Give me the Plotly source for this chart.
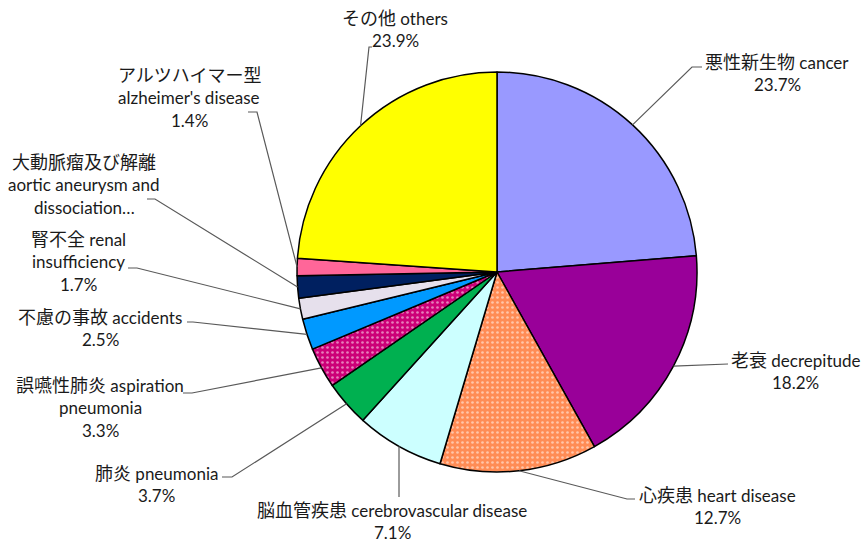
import math
import plotly.graph_objects as go

# ---------------- data ----------------
names_ja = ["悪性新生物", "老衰", "心疾患", "脳血管疾患", "肺炎", "誤嚥性肺炎",
            "不慮の事故", "腎不全", "大動脈瘤及び解離", "アルツハイマー型", "その他"]
names_en = ["cancer", "decrepitude", "heart disease", "cerebrovascular disease",
            "pneumonia", "aspiration pneumonia", "accidents", "renal insufficiency",
            "aortic aneurysm and dissociation", "alzheimer's disease", "others"]
values = [23.7, 18.2, 12.7, 7.1, 3.7, 3.3, 2.5, 1.7, 1.8, 1.4, 23.9]

# ---------------- style / layout ----------------
W, H = 862, 542
CX, CY, R = 497, 272, 200
colors = ["#9999FF", "#990099", "#FF8C55", "#CCFFFF", "#00B050", "#CC0077",
          "#0099FF", "#E6E0EC", "#002060", "#FF6699", "#FFFF00"]
pattern_shapes = ["", "", ".", "", "", ".", "", "", "", "", ""]

CJK = "font-size:18px"
def J(s):
    return f'<span style="{CJK}">{s}</span>'

pct = [f"{v:.1f}%" for v in values]
label_lines = [
    [J(names_ja[0]) + " " + names_en[0], pct[0]],
    [J(names_ja[1]) + " " + names_en[1], pct[1]],
    [J(names_ja[2]) + " " + names_en[2], pct[2]],
    [J(names_ja[3]) + " " + names_en[3], pct[3]],
    [J(names_ja[4]) + " " + names_en[4], pct[4]],
    [J(names_ja[5]) + " aspiration", "pneumonia", pct[5]],
    [J(names_ja[6]) + " " + names_en[6], pct[6]],
    [J(names_ja[7]) + " renal", "insufficiency", pct[7]],
    [J(names_ja[8]), "aortic aneurysm and", "dissociation…"],
    [J(names_ja[9]), names_en[9], pct[9]],
    [J(names_ja[10]) + " " + names_en[10], pct[10]],
]
label_pos = [(777, 62), (795, 360), (717, 495), (392, 510), (156, 473),
             (100, 385), (100, 317), (78, 239), (84, 162), (189, 75), (395, 18)]
LINE_H = 22.5
leader_pts = [
    [(692, 67), (702, 67)],
    [(728, 364)],
    [(627, 499), (635, 499)],
    [(399, 497)],
    [(232, 477), (222, 477)],
    [(192, 393), (183, 393)],
    [(193, 322), (187, 322)],
    [(137, 268), (128, 268)],
    [(155, 199), (147, 199)],
    [(257, 112), (248, 112)],
    [(369, 47), (372, 47)],
]

def px(x):
    return x / W
def py(y):
    return 1 - y / H

fig = go.Figure(go.Pie(
    labels=[f"{a} {b}" for a, b in zip(names_ja, names_en)],
    values=values,
    sort=False,
    direction="clockwise",
    rotation=0,
    textinfo="none",
    hoverinfo="label+percent",
    marker=dict(
        colors=colors,
        line=dict(color="black", width=1.5),
        pattern=dict(shape=pattern_shapes, fgcolor="white",
                     size=5, solidity=0.22, fillmode="overlay"),
    ),
    domain=dict(x=[px(CX - R), px(CX + R)], y=[py(CY + R), py(CY - R)]),
    showlegend=False,
))

total = sum(values)
shapes = []
annotations = []
cum = 0.0
for i, v in enumerate(values):
    mid = (cum + v / 2) / total * 2 * math.pi
    cum += v
    ax = CX + R * math.sin(mid)
    ay = CY - R * math.cos(mid)
    pts = [(ax, ay)] + leader_pts[i]
    path = "M " + " L ".join(f"{px(x):.5f},{py(y):.5f}" for x, y in pts)
    shapes.append(dict(type="path", path=path, xref="paper", yref="paper",
                       line=dict(color="#595959", width=1.2)))
    lx, ly = label_pos[i]
    for k, t in enumerate(label_lines[i]):
        annotations.append(dict(
            text=t, x=px(lx), y=py(ly + k * LINE_H), xref="paper", yref="paper",
            xanchor="center", yanchor="middle", showarrow=False,
            font=dict(size=17, color="#1a1a1a"),
        ))

fig.update_layout(
    width=W, height=H,
    margin=dict(l=0, r=0, t=0, b=0),
    paper_bgcolor="white",
    font=dict(family="Lato, 'Noto Sans CJK JP', sans-serif", size=17),
    shapes=shapes,
    annotations=annotations,
)

fig.write_html("out.html", config={"displayModeBar": False},
               post_script="document.body.style.margin='0';document.body.style.overflow='hidden';")
